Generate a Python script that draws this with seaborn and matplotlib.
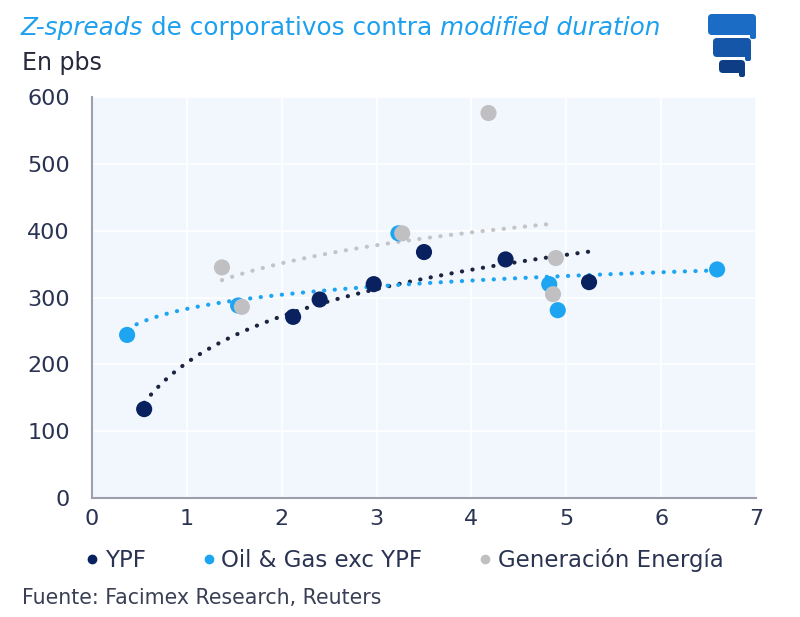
import numpy as np
import pandas as pd
import seaborn as sns
import matplotlib.pyplot as plt
from matplotlib.patches import FancyBboxPatch

# data (modified duration, z-spread in bps)
series_names = ['YPF', 'Oil & Gas exc YPF', 'Generación Energía']

ypf_dur = [0.55, 2.12, 2.40, 2.97, 3.50, 4.36, 5.24]
ypf_spread = [133, 271, 297, 320, 368, 357, 323]

oil_dur = [0.37, 1.54, 3.23, 4.82, 4.91, 6.59]
oil_spread = [244, 288, 396, 320, 281, 342]

gen_dur = [1.37, 1.58, 3.27, 4.18, 4.86, 4.89]
gen_spread = [345, 286, 396, 576, 305, 359]

x_ticks = [0, 1, 2, 3, 4, 5, 6, 7]
y_ticks = [0, 100, 200, 300, 400, 500, 600]

colors = ['#0a2160', '#1ea5f2', '#c0c0c2']
trend_colors = ['#1c2540', '#1ea5f2', '#c4c4c6']
text_color = '#2a3352'

df = pd.concat([
    pd.DataFrame({'dur': ypf_dur, 'spread': ypf_spread, 'grupo': series_names[0]}),
    pd.DataFrame({'dur': oil_dur, 'spread': oil_spread, 'grupo': series_names[1]}),
    pd.DataFrame({'dur': gen_dur, 'spread': gen_spread, 'grupo': series_names[2]}),
], ignore_index=True)

sns.set_style('white')
plt.rcParams['font.family'] = ['DejaVu Sans']

fig = plt.figure(figsize=(8, 6.17), dpi=100)
ax = fig.add_axes([92 / 800, 1 - 498 / 617, 664 / 800, 401 / 617])
ax.set_facecolor('#f1f7fd')

# logarithmic trend lines (like Excel's), fitted on each series
for name, tc in zip(series_names, trend_colors):
    sub = df[df['grupo'] == name]
    a, b = np.polyfit(np.log(sub['dur']), sub['spread'], 1)
    xs = np.linspace(sub['dur'].min(), sub['dur'].max(), 120)
    ax.plot(xs, a * np.log(xs) + b, color=tc, lw=3,
            linestyle=(0, (0.05, 2.5)), dash_capstyle='round', zorder=2)

sns.scatterplot(data=df, x='dur', y='spread', hue='grupo', palette=colors,
                hue_order=series_names, s=135, edgecolor='none', ax=ax,
                zorder=3, legend=False)

ax.set_xlim(0, 7)
ax.set_ylim(0, 600)
ax.set_xticks(x_ticks)
ax.set_yticks(y_ticks)
ax.grid(True, color='white', lw=1.2)
ax.set_xlabel('')
ax.set_ylabel('')
for s in ['top', 'right']:
    ax.spines[s].set_visible(False)
for s in ['left', 'bottom']:
    ax.spines[s].set_color('#9ca0ad')
    ax.spines[s].set_linewidth(1.5)
ax.tick_params(axis='y', length=0, pad=16, labelsize=16, labelcolor=text_color)
ax.tick_params(axis='x', length=0, pad=8, labelsize=16, labelcolor=text_color)

# legend under the chart
handles = [plt.Line2D([], [], marker='o', ls='', color=c, markersize=6) for c in colors]
fig.legend(handles, series_names, loc='center', bbox_to_anchor=(405 / 800, 0.092),
           ncol=3, frameon=False, fontsize=16.5, handlelength=0.5,
           handletextpad=0.3, columnspacing=2.5, labelcolor=text_color)

# title with mixed italics
title_color = '#1ea0ee'
parts = [('Z-spreads', 'italic'), (' de corporativos contra ', 'normal'),
         ('modified duration', 'italic')]
fig.canvas.draw()
renderer = fig.canvas.get_renderer()
x0 = 21 / 800
for txt, style in parts:
    t = fig.text(x0, 1 - 35 / 617, txt, fontsize=17.8, color=title_color,
                 style=style, ha='left', va='baseline')
    bb = t.get_window_extent(renderer)
    x0 += bb.width / fig.bbox.width

fig.text(22 / 800, 1 - 70 / 617, 'En pbs', fontsize=17, color='#262a3a',
         ha='left', va='baseline')
fig.text(22 / 800, 1 - 604 / 617, 'Fuente: Facimex Research, Reuters',
         fontsize=14.8, color='#3a3f55', ha='left', va='baseline')

# small logo in the top right corner (pixel coordinates)
logo = fig.add_axes([700 / 800, 1 - 80 / 617, 65 / 800, 72 / 617])
logo.set_xlim(700, 765)
logo.set_ylim(80, 8)
logo.axis('off')
bars = [(708, 14, 48, 21), (713, 38, 38, 19), (719, 60, 26, 13)]
for (lx, ly, lw, lh), col in zip(bars, ['#1a6cc4', '#1556a8', '#0f3d85']):
    logo.add_patch(FancyBboxPatch((lx, ly), lw, lh,
                                  boxstyle='round,pad=0,rounding_size=4',
                                  fc=col, ec='none'))
    logo.add_patch(FancyBboxPatch((lx + lw - 6, ly + lh - 4), 6, 8,
                                  boxstyle='round,pad=0,rounding_size=2',
                                  fc=col, ec='none'))

fig.savefig('out.png', dpi=100)
